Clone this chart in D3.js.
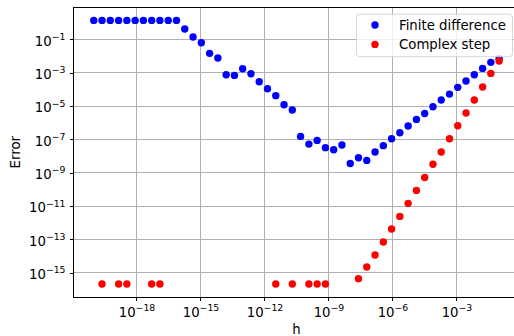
<!DOCTYPE html>
<html>
<head>
<meta charset="utf-8">
<script src="https://cdn.jsdelivr.net/npm/d3@7"></script>
<style>
  body { margin: 0; background: #fff; }
  svg { display: block; font-family: "DejaVu Sans", sans-serif; }
  .grid line { stroke: #b0b0b0; stroke-width: 1; shape-rendering: crispEdges; }
  .axis path { display: none; }
  .axis line { stroke: #000; stroke-width: 1; shape-rendering: crispEdges; }
</style>
</head>
<body>
<script>
// step sizes h (log spaced, 50 points)
var hValues = [1.00e-20, 2.44e-20, 5.96e-20, 1.46e-19, 3.56e-19, 8.69e-19, 2.12e-18, 5.18e-18, 1.26e-17, 3.09e-17,
               7.54e-17, 1.84e-16, 4.50e-16, 1.10e-15, 2.68e-15, 6.55e-15, 1.60e-14, 3.91e-14, 9.54e-14, 2.33e-13,
               5.69e-13, 1.39e-12, 3.39e-12, 8.29e-12, 2.02e-11, 4.94e-11, 1.21e-10, 2.95e-10, 7.20e-10, 1.76e-09,
               4.29e-09, 1.05e-08, 2.56e-08, 6.25e-08, 1.53e-07, 3.73e-07, 9.10e-07, 2.22e-06, 5.43e-06, 1.33e-05,
               3.24e-05, 7.91e-05, 1.93e-04, 4.71e-04, 1.15e-03, 2.81e-03, 6.87e-03, 1.68e-02, 4.09e-02, 1.00e-01];

// finite difference error
var fdErrors = [1.38, 1.38, 1.38, 1.38, 1.38, 1.38, 1.38, 1.38, 1.38, 1.38,
                1.38, 0.417, 0.138, 0.063, 1.45e-2, 7.6e-3, 7.6e-4, 6.9e-4, 1.74e-3, 8.7e-4,
                2.9e-4, 1.10e-4, 4.2e-5, 1.20e-5, 5.8e-6, 1.51e-7, 5.2e-8, 8.7e-8, 3.2e-8, 2.4e-8,
                4.6e-8, 3.6e-9, 7.9e-9, 5.5e-9, 1.74e-8, 4.2e-8, 1.10e-7, 2.5e-7, 6.3e-7, 1.58e-6,
                3.6e-6, 9.1e-6, 2.3e-5, 5.2e-5, 1.32e-4, 3.2e-4, 7.6e-4, 1.82e-3, 4.2e-3, 6.9e-3];

// complex step error (null = exactly zero, not shown on log axis)
var csErrors = [null, 2.1e-16, null, 2.1e-16, 2.1e-16, null, null, 2.1e-16, 2.1e-16, null,
                null, null, null, null, null, null, null, null, null, null,
                null, null, 2.1e-16, null, 2.1e-16, null, 2.1e-16, 2.1e-16, 2.1e-16, null,
                null, null, 4.4e-16, 2.2e-15, 1.15e-14, 6.9e-14, 4.2e-13, 2.4e-12, 1.45e-11, 8.7e-11,
                5.2e-10, 3.2e-9, 1.74e-8, 1.10e-7, 6.6e-7, 3.8e-6, 2.3e-5, 1.38e-4, 9.1e-4, 5.0e-3];

var xTickExps = [-18, -15, -12, -9, -6, -3];
var yTickExps = [-1, -3, -5, -7, -9, -11, -13, -15];
var seriesNames = ["Finite difference", "Complex step"];
var seriesColors = ["#0000ff", "#ff0000"];

var w = 514, h = 336;
var pLeft = 73.5, pTop = 7.2, pRight = 519.4, pBottom = 297.2;

// log limits with 5% margin, like matplotlib autoscale
function padLog(vals) {
    var lo = Math.log10(d3.min(vals)), hi = Math.log10(d3.max(vals));
    var p = 0.05 * (hi - lo);
    return [Math.pow(10, lo - p), Math.pow(10, hi + p)];
}

var allErr = fdErrors.concat(csErrors.filter(function (d) { return d !== null; }));

var xscale = d3.scaleLog().domain(padLog(hValues)).range([pLeft, pRight]);
var yscale = d3.scaleLog().domain(padLog(allErr)).range([pBottom, pTop]);

var svg = d3.select('body').append('svg')
    .attr('width', w)
    .attr('height', h);

// grid
var grid = svg.append('g').attr('class', 'grid');
grid.selectAll('line.gx')
    .data(xTickExps)
    .enter().append('line')
    .attr('x1', function (d) { return xscale(Math.pow(10, d)); })
    .attr('x2', function (d) { return xscale(Math.pow(10, d)); })
    .attr('y1', pTop).attr('y2', pBottom);
grid.selectAll('line.gy')
    .data(yTickExps)
    .enter().append('line')
    .attr('x1', pLeft).attr('x2', pRight)
    .attr('y1', function (d) { return yscale(Math.pow(10, d)); })
    .attr('y2', function (d) { return yscale(Math.pow(10, d)); });

// tick labels as 10 with a superscript exponent
function supLabel(sel) {
    sel.each(function (d) {
        var t = d3.select(this);
        var e = Math.round(Math.log10(d));
        t.text(null).attr('dy', null)
            .style('font-size', '13.3px')
            .style('font-family', '"DejaVu Sans", sans-serif')
            .style('fill', '#000');
        t.append('tspan').text('10');
        t.append('tspan').style('font-size', '9.3px').attr('dy', -5.5)
            .text(String(e).replace('-', '\u2212'));
    });
}

var xAxis = d3.axisBottom(xscale)
    .tickValues(xTickExps.map(function (e) { return Math.pow(10, e); }))
    .tickSize(3.5).tickSizeOuter(0);
var gx = svg.append('g')
    .attr('class', 'axis')
    .attr('transform', 'translate(0,' + pBottom + ')')
    .call(xAxis);
gx.selectAll('.tick text').call(supLabel).attr('y', 19.5);

var yAxis = d3.axisLeft(yscale)
    .tickValues(yTickExps.map(function (e) { return Math.pow(10, e); }))
    .tickSize(3.5).tickSizeOuter(0);
var gy = svg.append('g')
    .attr('class', 'axis')
    .attr('transform', 'translate(' + pLeft + ',0)')
    .call(yAxis);
gy.selectAll('.tick text').call(supLabel).attr('x', -8).attr('y', 5.7);

// points
svg.selectAll('circle.fd')
    .data(hValues.map(function (x, i) { return [x, fdErrors[i]]; }))
    .enter().append('circle')
    .attr('class', 'fd')
    .attr('cx', function (d) { return xscale(d[0]); })
    .attr('cy', function (d) { return yscale(d[1]); })
    .attr('r', 3.7)
    .style('fill', seriesColors[0]);

svg.selectAll('circle.cs')
    .data(hValues.map(function (x, i) { return [x, csErrors[i]]; })
                 .filter(function (d) { return d[1] !== null; }))
    .enter().append('circle')
    .attr('class', 'cs')
    .attr('cx', function (d) { return xscale(d[0]); })
    .attr('cy', function (d) { return yscale(d[1]); })
    .attr('r', 3.7)
    .style('fill', seriesColors[1]);

// frame
svg.append('rect')
    .attr('x', pLeft).attr('y', pTop)
    .attr('width', pRight - pLeft).attr('height', pBottom - pTop)
    .style('fill', 'none').style('stroke', '#000').style('stroke-width', 1)
    .style('shape-rendering', 'crispEdges');

// legend
var lg = svg.append('g');
lg.append('rect')
    .attr('x', 356.5).attr('y', 14.2)
    .attr('width', 156).attr('height', 42.5)
    .attr('rx', 3)
    .style('fill', '#fff').style('fill-opacity', 0.8)
    .style('stroke', '#cccccc').style('stroke-opacity', 0.8);
seriesNames.forEach(function (name, i) {
    lg.append('circle')
        .attr('cx', 375).attr('cy', 25 + i * 19.4)
        .attr('r', 3.7)
        .style('fill', seriesColors[i]);
    lg.append('text')
        .attr('x', 399).attr('y', 30 + i * 19.4)
        .style('font-size', '13.3px')
        .text(name);
});

// axis labels
svg.append('text')
    .attr('x', (pLeft + pRight) / 2).attr('y', 333.5)
    .style('text-anchor', 'middle').style('font-size', '13.3px')
    .text('h');
svg.append('text')
    .attr('transform', 'translate(20,' + (pTop + pBottom) / 2 + ') rotate(-90)')
    .style('text-anchor', 'middle').style('font-size', '13.3px')
    .text('Error');
</script>
</body>
</html>
